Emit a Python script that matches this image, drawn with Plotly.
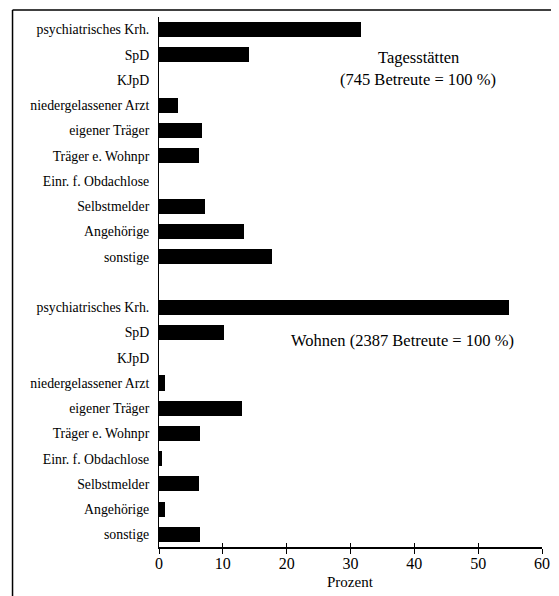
import plotly.graph_objects as go

categories = ["psychiatrisches Krh.", "SpD", "KJpD", "niedergelassener Arzt",
              "eigener Träger", "Träger e. Wohnpr", "Einr. f. Obdachlose",
              "Selbstmelder", "Angehörige", "sonstige"]
tagesstaetten = [31.6, 14.1, 0, 2.9, 6.8, 6.3, 0, 7.2, 13.3, 17.7]
wohnen = [54.9, 10.2, 0, 1.0, 13.0, 6.4, 0.5, 6.3, 0.9, 6.5]
x_ticks = [0, 10, 20, 30, 40, 50, 60]

n = len(categories)
pos_top = list(range(n))
pos_bot = [n + 1 + i for i in range(n)]

FONT = "Liberation Serif"
OFF = 8  # page body margin
W, H = 559 - OFF, 596 - OFF
ML, MR, MT, MB = 159 - OFF, 13, 17 - OFF, 49
pw, ph = W - ML - MR, H - MT - MB

fig = go.Figure()
for pos, vals in [(pos_top, tagesstaetten), (pos_bot, wohnen)]:
    fig.add_trace(go.Bar(x=vals, y=pos, orientation="h", width=0.6,
                         marker=dict(color="black", line=dict(width=0)),
                         showlegend=False))
fig.add_trace(go.Scatter(x=[0], y=[0], xaxis="x2", mode="markers",
                         marker=dict(opacity=0), showlegend=False, hoverinfo="skip"))

fig.update_layout(
    width=W, height=H,
    margin=dict(l=ML, r=MR, t=MT, b=MB),
    plot_bgcolor="white", paper_bgcolor="white",
    font=dict(family=FONT, color="black"),
    bargap=0,
    xaxis=dict(range=[0, 60], tickvals=x_ticks, ticktext=[str(v) for v in x_ticks],
               showgrid=False, zeroline=False, showline=True, linecolor="black",
               linewidth=1.5, ticks="outside", ticklen=5, tickcolor="black",
               ticklabelstandoff=-4,
               tickfont=dict(family=FONT, size=16)),
    xaxis2=dict(range=[0, 60], overlaying="x", side="bottom", anchor="y",
                tickvals=x_ticks, showticklabels=False, ticks="inside", ticklen=4,
                tickcolor="black", showgrid=False, zeroline=False, showline=False),
    yaxis=dict(range=[2 * n + 0.5, -0.5], tickvals=pos_top + pos_bot,
               ticktext=categories + categories, showgrid=False, zeroline=False,
               showline=True, linecolor="black", linewidth=1, ticks="",
               ticklabelstandoff=6, tickfont=dict(family=FONT, size=13.8)),
)

def px_x(px):
    return (px - OFF - ML) / pw

def px_y(py):
    return (H - MB - (py - OFF)) / ph

def label(text, cx, cy, size):
    fig.add_annotation(x=px_x(cx), y=px_y(cy), xref="paper", yref="paper",
                       xanchor="center", yanchor="middle", text=text,
                       showarrow=False, font=dict(family=FONT, size=size))

label("Tagesstätten", 421, 58, 16.5)
label("(745 Betreute = 100 %)", 421, 80, 16.5)
label("Wohnen (2387 Betreute = 100 %)", 405, 340, 16.5)
label("Prozent", 352, 582, 15)

fig.add_shape(type="line", xref="paper", yref="paper",
              x0=px_x(11), x1=px_x(559), y0=px_y(10), y1=px_y(10),
              line=dict(color="black", width=1.5))
fig.add_shape(type="line", xref="paper", yref="paper",
              x0=px_x(11), x1=px_x(11), y0=px_y(10), y1=px_y(596),
              line=dict(color="black", width=1.5))

fig.write_html("out.html")
